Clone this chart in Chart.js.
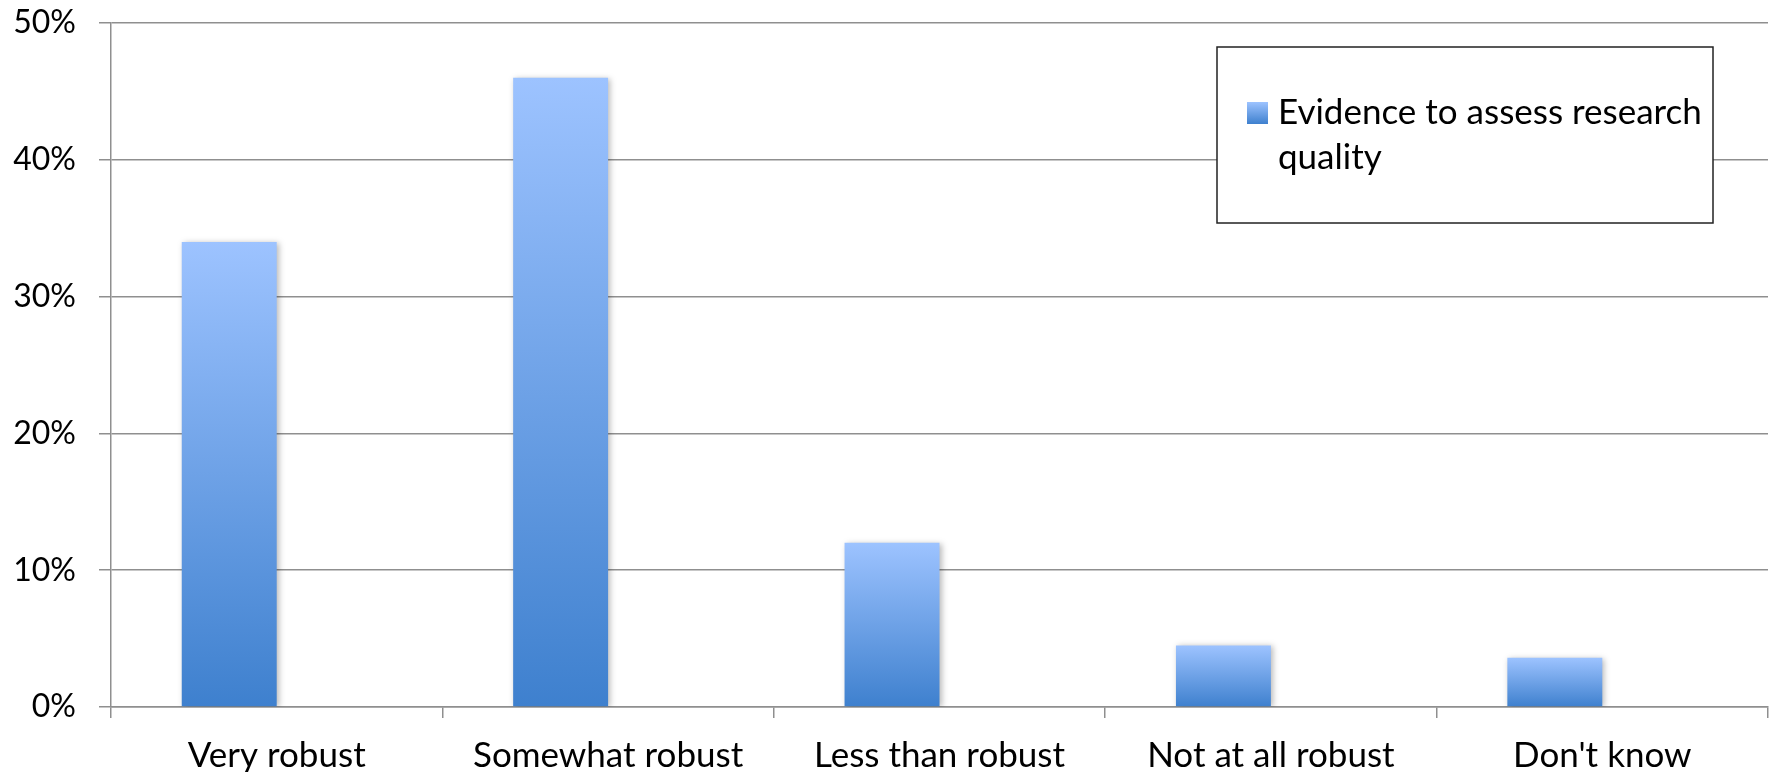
<!DOCTYPE html>
<html>
<head>
<meta charset="utf-8">
<script src="https://cdn.jsdelivr.net/npm/chart.js@4.4.1/dist/chart.umd.min.js"></script>
<style>
  html, body { margin: 0; padding: 0; background: #fff; }
  #wrap { width: 1773px; height: 772px; position: relative; }
</style>
</head>
<body>
<div id="wrap"><canvas id="grafico"></canvas></div>
<script>
// categorias e valores (%)
const categorias = ['Very robust', 'Somewhat robust', 'Less than robust', 'Not at all robust', "Don't know"];
const evidencia = [34, 46, 12, 4.5, 3.6];
const segundaSerie = [null, null, null, null, null];
const nomeSerie = ['Evidence to assess research', 'quality'];
const ticksY = [0, 10, 20, 30, 40, 50];

const corTopo = 'rgb(157, 195, 255)';
const corBase = 'rgb(62, 128, 206)';
const corGrade = '#8f8f8f';
const fonte = 'Lato';

Chart.defaults.font.family = fonte;
Chart.defaults.font.size = 35;
Chart.defaults.color = '#000';

// gradiente vertical de cada barra, do topo até o zero
function preenchimento(context) {
  const chart = context.chart;
  const escala = chart.scales.y;
  if (!chart.chartArea || !escala || context.raw == null) return corTopo;
  const topo = escala.getPixelForValue(context.raw);
  const base = escala.getPixelForValue(0);
  const g = chart.ctx.createLinearGradient(0, topo, 0, base);
  g.addColorStop(0, corTopo);
  g.addColorStop(1, corBase);
  return g;
}

// sombra leve atrás das barras
const sombra = {
  id: 'sombra',
  beforeDatasetsDraw(chart) {
    const ctx = chart.ctx;
    ctx.save();
    ctx.shadowColor = 'rgba(0, 0, 0, 0.28)';
    ctx.shadowBlur = 6;
    ctx.shadowOffsetX = 2;
    ctx.shadowOffsetY = 1;
  },
  afterDatasetsDraw(chart) {
    chart.ctx.restore();
  }
};

// legenda em caixa com texto em duas linhas
const legendaCaixa = {
  id: 'legendaCaixa',
  afterDraw(chart) {
    const ctx = chart.ctx;
    const x = 1217, y = 47, w = 496, h = 176;
    ctx.save();
    ctx.fillStyle = '#fff';
    ctx.fillRect(x, y, w, h);
    ctx.strokeStyle = '#222';
    ctx.lineWidth = 1.5;
    ctx.strokeRect(x, y, w, h);

    const sx = 1247, sy = 102, sw = 21, sh = 22;
    const g = ctx.createLinearGradient(0, sy, 0, sy + sh);
    g.addColorStop(0, corTopo);
    g.addColorStop(1, corBase);
    ctx.fillStyle = g;
    ctx.fillRect(sx, sy, sw, sh);

    ctx.fillStyle = '#000';
    ctx.font = '35px ' + fonte;
    ctx.textBaseline = 'alphabetic';
    ctx.textAlign = 'left';
    nomeSerie.forEach((linha, i) => {
      ctx.fillText(linha, 1278, 124 + i * 45);
    });
    ctx.restore();
  }
};

new Chart(document.getElementById('grafico'), {
  type: 'bar',
  data: {
    labels: categorias,
    datasets: [{
      label: nomeSerie.join(' '),
      data: evidencia,
      backgroundColor: preenchimento,
      borderWidth: 0
    }, {
      label: '',
      data: segundaSerie,
      backgroundColor: corBase,
      borderWidth: 0
    }]
  },
  plugins: [sombra, legendaCaixa],
  options: {
    responsive: true,
    maintainAspectRatio: false,
    animation: false,
    categoryPercentage: 0.573,
    barPercentage: 1,
    layout: { padding: { top: 23, right: 5, left: 0, bottom: 0 } },
    plugins: {
      legend: { display: false },
      tooltip: { enabled: false }
    },
    scales: {
      x: {
        grid: {
          offset: true,
          drawOnChartArea: false,
          tickLength: 11,
          color: corGrade,
          lineWidth: 1.5
        },
        border: { color: corGrade, width: 1.5 },
        ticks: { padding: 17, maxRotation: 0, autoSkip: false },
        afterFit(scale) {
          scale.height = 65;
          scale.paddingLeft = 0;
          scale.paddingRight = 0;
        }
      },
      y: {
        min: 0,
        max: 50,
        afterBuildTicks(scale) {
          scale.ticks = ticksY.map(v => ({ value: v }));
        },
        grid: {
          tickLength: 12,
          color: corGrade,
          lineWidth: 1.5
        },
        border: { color: corGrade, width: 1.5 },
        ticks: {
          padding: 23,
          font: { size: 32 },
          callback: v => v + '%'
        },
        afterFit(scale) {
          scale.width = 111;
          scale.paddingTop = 0;
          scale.paddingBottom = 0;
        }
      }
    }
  }
});
</script>
</body>
</html>
